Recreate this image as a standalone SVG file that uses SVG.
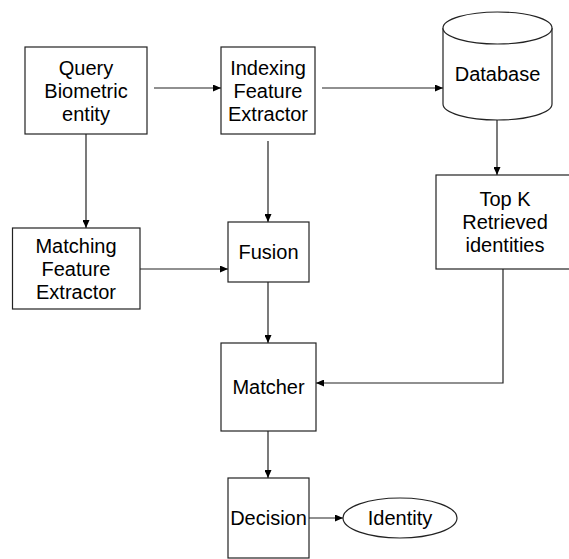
<svg xmlns="http://www.w3.org/2000/svg" width="569" height="559" viewBox="0 0 569 559">
<defs>
<style>
.box{fill:#fff;stroke:#222;stroke-width:1.2}
.t{font-family:"Liberation Sans",Arial,sans-serif;font-size:20px;fill:#000;text-anchor:middle}
.c{fill:none;stroke:#222;stroke-width:1.2}
</style>
<marker id="ah" markerUnits="userSpaceOnUse" markerWidth="8" markerHeight="7" refX="8" refY="3.5" orient="auto">
<path d="M0,0 L8,3.5 L0,7 z" fill="#000"/>
</marker>
</defs>
<rect width="569" height="559" fill="#fff"/>
<g id="connectors">
<line class="c" x1="154" y1="88" x2="221" y2="88" marker-end="url(#ah)"/>
<line class="c" x1="322" y1="88" x2="443" y2="88" marker-end="url(#ah)"/>
<line class="c" x1="497" y1="120" x2="497" y2="175" marker-end="url(#ah)"/>
<line class="c" x1="86" y1="134" x2="86" y2="228" marker-end="url(#ah)"/>
<line class="c" x1="268" y1="141" x2="268" y2="222" marker-end="url(#ah)"/>
<line class="c" x1="140" y1="269" x2="228" y2="269" marker-end="url(#ah)"/>
<line class="c" x1="268" y1="282" x2="268" y2="343" marker-end="url(#ah)"/>
<polyline class="c" points="503,269 503,383 316,383" marker-end="url(#ah)"/>
<line class="c" x1="268" y1="431" x2="268" y2="478" marker-end="url(#ah)"/>
<line class="c" x1="308" y1="518" x2="343" y2="518" marker-end="url(#ah)"/>
</g>
<g id="query">
<rect class="box" x="25" y="47" width="122" height="87"/>
<text class="t" x="86" y="75">Query</text>
<text class="t" x="86" y="98">Biometric</text>
<text class="t" x="86" y="121">entity</text>
</g>
<g id="indexing">
<rect class="box" x="221" y="47" width="94" height="87"/>
<text class="t" x="268" y="75">Indexing</text>
<text class="t" x="268" y="98">Feature</text>
<text class="t" x="268" y="121">Extractor</text>
</g>
<g id="database">
<path class="box" d="M443,28 L443,104 A54.5,16 0 0 0 552,104 L552,28"/>
<ellipse class="box" cx="497.5" cy="28" rx="54.5" ry="16"/>
<text class="t" x="497.5" y="81">Database</text>
</g>
<g id="topk">
<rect class="box" x="436" y="175" width="140" height="94"/>
<text class="t" x="505" y="206">Top K</text>
<text class="t" x="505" y="229">Retrieved</text>
<text class="t" x="505" y="252">identities</text>
</g>
<g id="matching">
<rect class="box" x="12.5" y="228" width="127.5" height="81"/>
<text class="t" x="76" y="253">Matching</text>
<text class="t" x="76" y="276">Feature</text>
<text class="t" x="76" y="299">Extractor</text>
</g>
<g id="fusion">
<rect class="box" x="228" y="222" width="81" height="60"/>
<text class="t" x="268.5" y="259">Fusion</text>
</g>
<g id="matcher">
<rect class="box" x="221" y="343" width="95" height="88"/>
<text class="t" x="268.5" y="394">Matcher</text>
</g>
<g id="decision">
<rect class="box" x="228" y="478" width="81" height="80"/>
<text class="t" x="268.5" y="525">Decision</text>
</g>
<g id="identity">
<ellipse class="box" cx="400" cy="518" rx="57" ry="20"/>
<text class="t" x="400" y="525">Identity</text>
</g>
</svg>
